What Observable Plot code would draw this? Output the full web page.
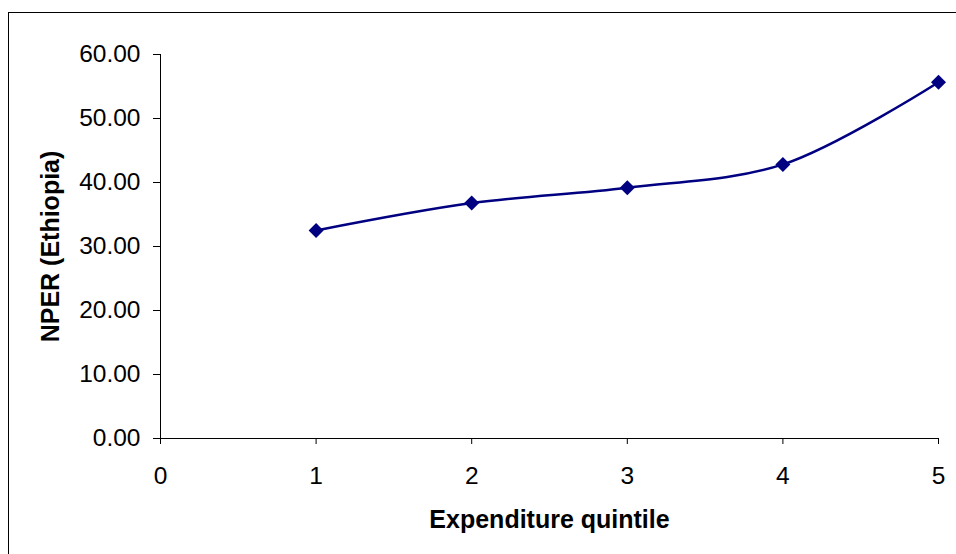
<!DOCTYPE html>
<html>
<head>
<meta charset="utf-8">
<script src="https://cdn.jsdelivr.net/npm/d3@7"></script>
<script src="https://cdn.jsdelivr.net/npm/@observablehq/plot@0.6"></script>
<style>
  html, body { margin: 0; padding: 0; background: #fff; overflow: hidden; }
  #wrap { position: relative; width: 956px; height: 554px; overflow: hidden; }
  #wrap svg { position: absolute; left: 0; top: 0; }
  #border { position: absolute; left: 8px; top: 12px; width: 1000px; height: 700px;
            border: 1px solid #000; box-sizing: border-box; pointer-events: none; }
</style>
</head>
<body>
<div id="wrap"><div id="border"></div></div>
<script>
// NPER by expenditure quintile
const quintiles = [1, 2, 3, 4, 5];
const nper = [32.50, 36.78, 39.19, 42.83, 55.67];
const xTicks = [0, 1, 2, 3, 4, 5];
const yTicks = [0, 10, 20, 30, 40, 50, 60];
const xTitle = "Expenditure quintile";
const yTitle = "NPER (Ethiopia)";

const rows = quintiles.map((q, i) => ({q, v: nper[i]}));
const navy = "#000080";
const font = "'Liberation Sans', Arial, Helvetica, sans-serif";

const chart = Plot.plot({
  width: 956,
  height: 554,
  marginTop: 54,
  marginRight: 18,
  marginBottom: 116,
  marginLeft: 160,
  style: {fontFamily: font, fontSize: "24px", color: "#000", background: "transparent", overflow: "visible"},
  x: {domain: [0, 5]},
  y: {domain: [0, 60]},
  marks: [
    Plot.axisY({ticks: yTicks, tickSize: 7, tickPadding: 13, tickFormat: d3.format(".2f"), label: null, fontSize: 24.5}),
    Plot.axisX({ticks: xTicks, tickSize: 6, tickPadding: 22, tickFormat: d3.format("d"), label: null, fontSize: 24.5}),
    Plot.ruleX([0]),
    Plot.ruleY([0]),
    Plot.line(rows, {x: "q", y: "v", curve: "catmull-rom", stroke: navy, strokeWidth: 2.5}),
    Plot.dot(rows, {x: "q", y: "v", symbol: "diamond2", r: 6.75, fill: navy, stroke: "none"}),
    Plot.text([xTitle], {text: d => d, frameAnchor: "bottom", dy: 81, textAnchor: "middle", lineAnchor: "middle", fontWeight: "bold", fontSize: 25}),
    Plot.text([yTitle], {text: d => d, frameAnchor: "left", dx: -110, rotate: -90, textAnchor: "middle", lineAnchor: "middle", fontWeight: "bold", fontSize: 25})
  ]
});

document.getElementById("wrap").prepend(chart);
</script>
</body>
</html>
